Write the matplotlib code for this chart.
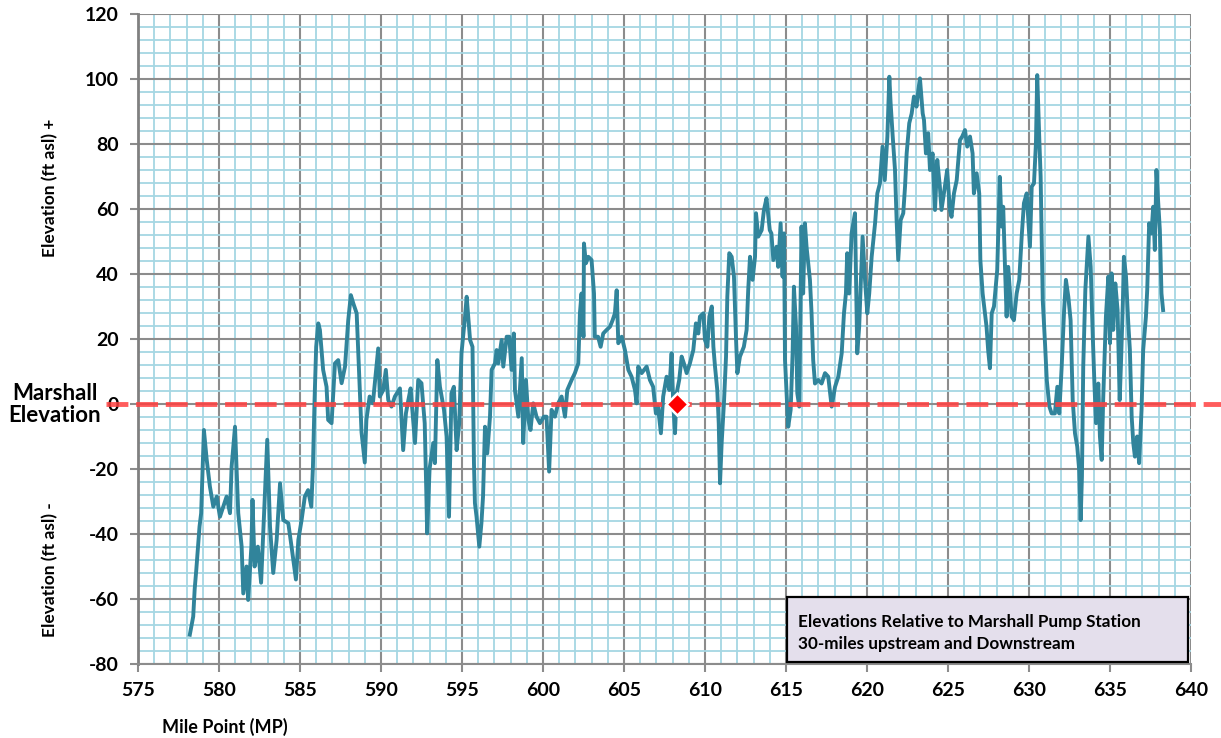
import matplotlib.pyplot as plt
from matplotlib.ticker import MultipleLocator

plt.rcParams["axes.unicode_minus"] = False

# elevation profile (mile point, ft relative to Marshall)
mile = [
    578.2, 578.41, 578.5, 578.6, 578.8, 578.9, 579.0, 579.07, 579.24, 579.44,
    579.65, 579.86, 580.06, 580.47, 580.68, 580.78, 580.99, 581.19, 581.4, 581.5,
    581.7, 581.8, 582.0, 582.07, 582.2, 582.4, 582.6, 582.84, 582.98, 583.15,
    583.35, 583.56, 583.77, 583.97, 584.28, 584.48, 584.75, 584.9, 585.1, 585.3,
    585.5, 585.7, 585.8, 585.9, 586.0, 586.13, 586.23, 586.43, 586.64, 586.74,
    586.95, 587.16, 587.36, 587.57, 587.78, 587.98, 588.14, 588.29, 588.5, 588.66,
    588.8, 589.0, 589.1, 589.3, 589.5, 589.83, 589.93, 590.14, 590.3, 590.45,
    590.65, 590.86, 591.17, 591.37, 591.54, 591.69, 591.83, 592.1, 592.3, 592.5,
    592.7, 592.8, 592.85, 593.0, 593.23, 593.33, 593.48, 593.64, 593.89, 594.05,
    594.2, 594.35, 594.5, 594.67, 594.83, 594.97, 595.19, 595.29, 595.5, 595.65,
    595.74, 595.8, 595.9, 596.07, 596.2, 596.3, 596.42, 596.56, 596.73, 596.83,
    597.04, 597.14, 597.24, 597.45, 597.55, 597.76, 597.92, 598.06, 598.2, 598.27,
    598.48, 598.69, 598.78, 598.95, 599.1, 599.23, 599.4, 599.6, 599.81, 600.06,
    600.22, 600.38, 600.53, 600.74, 600.94, 601.15, 601.36, 601.5, 601.77, 601.97,
    602.18, 602.28, 602.38, 602.5, 602.53, 602.65, 602.8, 603.0, 603.15, 603.2,
    603.4, 603.56, 603.72, 603.93, 604.14, 604.3, 604.44, 604.55, 604.65, 604.86,
    605.06, 605.27, 605.47, 605.68, 605.78, 605.88, 606.09, 606.4, 606.6, 606.8,
    606.97, 607.1, 607.28, 607.42, 607.63, 607.8, 607.94, 608.04, 608.15, 608.25,
    608.41, 608.56, 608.7, 608.87, 609.07, 609.28, 609.44, 609.59, 609.69, 609.9,
    610.0, 610.15, 610.27, 610.42, 610.52, 610.62, 610.76, 610.85, 610.93, 611.03,
    611.17, 611.3, 611.38, 611.5, 611.65, 611.79, 611.92, 612.0, 612.16, 612.4,
    612.57, 612.67, 612.78, 612.94, 613.09, 613.15, 613.29, 613.5, 613.64, 613.8,
    614.0, 614.1, 614.22, 614.42, 614.52, 614.67, 614.79, 614.88, 614.94, 615.04,
    615.14, 615.29, 615.41, 615.49, 615.62, 615.7, 615.82, 615.96, 616.06, 616.17,
    616.27, 616.48, 616.58, 616.68, 616.79, 616.99, 617.2, 617.41, 617.61, 617.82,
    618.03, 618.23, 618.44, 618.58, 618.7, 618.78, 618.9, 619.05, 619.26, 619.4,
    619.52, 619.61, 619.73, 619.88, 620.02, 620.14, 620.29, 620.5, 620.64, 620.8,
    620.96, 621.1, 621.26, 621.38, 621.46, 621.59, 621.73, 621.83, 621.93, 622.08,
    622.24, 622.35, 622.45, 622.61, 622.76, 622.9, 623.06, 623.17, 623.27, 623.44,
    623.52, 623.64, 623.78, 623.89, 624.05, 624.2, 624.34, 624.5, 624.6, 624.81,
    624.95, 625.12, 625.22, 625.37, 625.54, 625.64, 625.74, 625.88, 626.05, 626.19,
    626.36, 626.52, 626.6, 626.77, 626.93, 627.0, 627.14, 627.28, 627.38, 627.48,
    627.59, 627.7, 627.84, 628.04, 628.2, 628.31, 628.41, 628.52, 628.62, 628.72,
    628.83, 628.93, 629.07, 629.24, 629.4, 629.55, 629.69, 629.86, 630.06, 630.17,
    630.31, 630.43, 630.51, 630.64, 630.72, 630.85, 630.99, 631.1, 631.26, 631.4,
    631.6, 631.75, 631.87, 632.02, 632.17, 632.28, 632.43, 632.57, 632.7, 632.84,
    632.98, 633.1, 633.19, 633.27, 633.35, 633.48, 633.67, 633.81, 633.94, 634.04,
    634.14, 634.28, 634.38, 634.49, 634.58, 634.75, 634.9, 635.0, 635.1, 635.2,
    635.33, 635.47, 635.6, 635.68, 635.8, 635.86, 635.99, 636.13, 636.23, 636.34,
    636.44, 636.54, 636.68, 636.8, 636.95, 637.05, 637.22, 637.3, 637.42, 637.56,
    637.67, 637.77, 637.87, 637.98, 638.08, 638.18, 638.28,
]
elev = [
    -71, -65.4, -57, -51, -37.7, -33.6, -19, -8, -17, -25.4,
    -31.6, -28.5, -34.7, -28.5, -33.6, -19.3, -7, -33.6, -43.9, -58.3,
    -50, -60.3, -43.9, -29.5, -50, -43.9, -55, -27.4, -11, -37.7,
    -52, -41.8, -24.4, -35.7, -36.7, -43.9, -54, -41.8, -35.7, -28.5,
    -26.5, -31.6, -19.3, 1.2, 17.6, 24.8, 22.8, 10.5, 5.3, -4.9,
    -5.9, 12.5, 13.5, 6.4, 11.5, 25.8, 33.5, 31, 27.9, 8.7,
    -8.7, -18, -4.9, 2.3, 0.2, 17.1, 2.3, 4.3, 10.5, 1.2,
    -0.8, 2.3, 4.8, -14.2, -2.9, 1.2, 4.8, -12, 7.4, 6.4,
    -5.9, -27.5, -39.8, -20, -12, -18.2, 13.5, 5.3, -1.8, -10,
    -34.7, 3.3, 5.3, -14.2, -5.9, 15.6, 26.9, 33, 19.7, 17.6,
    -18.2, -30.5, -34.7, -43.9, -36.7, -28.5, -7, -15.2, -3.9, 10.5,
    12.5, 16.6, 12.5, 19.7, 11.5, 20.7, 20.7, 10.5, 21.7, 4.3,
    -3.9, 14.1, -12, 7.4, -4.9, -8, 0.2, -3.9, -5.9, -3.9,
    -3.9, -20.8, -1.8, -3.9, 0.2, 2.3, -3.9, 4.3, 7.4, 9.5,
    12.5, 27.9, 34, 20.7, 49.4, 43.3, 45.3, 44.3, 34, 20.7,
    20.7, 17.6, 21.7, 22.8, 23.8, 25.8, 27.9, 35, 18.7, 20.7,
    16.6, 10.5, 8.4, 4.3, 0.2, 11.5, 9.5, 11.5, 7.4, 5.3,
    -2.9, -0.8, -9, 2.3, 8.4, 4.3, 15.6, 0.2, -9, 3.3,
    7.4, 14.6, 12.5, 9.5, 12.5, 16.6, 24.8, 21.7, 26.9, 27.9,
    19.7, 17.6, 26.9, 30, 17.6, 11.5, 4.3, -5.9, -24.4, -12,
    0.2, 14.6, 33, 46.4, 45.3, 39.2, 19.7, 9.5, 14.6, 17.6,
    22.8, 35.1, 45.3, 38.2, 45.3, 58.7, 51.5, 53.5, 59.7, 63.3,
    53.5, 52.5, 44.3, 48.4, 42.2, 55.6, 39.2, 52.5, 13.5, 3.3,
    -7, -1.8, 15.6, 36.1, 23.8, 3.3, -0.8, 54.6, 34, 55.6,
    48.4, 38.2, 27.9, 13.5, 6.3, 7.4, 6.3, 9.5, 8.4, -0.8,
    5.3, 8.4, 15.6, 27.9, 34, 46.4, 34, 52.5, 58.7, 15.6,
    23.8, 36.1, 51.5, 38.2, 27.9, 34, 45.3, 55.6, 64.8, 67.9,
    79.2, 68.9, 82.3, 100.7, 92.5, 82.3, 72, 56.6, 44.3, 56.6,
    58.7, 66.9, 77.1, 86.4, 89.4, 94.6, 91.5, 96.6, 100.2, 89.4,
    87.4, 77.1, 83.3, 72, 77.1, 59.7, 75.1, 66.9, 59.7, 66.9,
    72, 59.7, 57.6, 64.8, 68.9, 75.1, 81.2, 82.3, 84.3, 79.2,
    82.3, 77.1, 64.8, 71, 64.8, 44.3, 34, 27.9, 23.8, 16.6,
    11, 27.9, 30, 41.2, 69.9, 54.6, 60.7, 42.2, 26.9, 42.2,
    34, 26.9, 25.8, 34, 38.2, 51.5, 61.8, 64.8, 48.4, 66.9,
    67.9, 80.2, 101.2, 81.2, 70, 32, 18.7, 7.4, -0.8, -2.9,
    -2.9, 5.3, -2.9, 11.5, 28.9, 38.2, 33, 25.8, 1.2, -9,
    -13.1, -20.3, -35.7, -22.4, 11.5, 35.1, 51.5, 42.2, 20.7, 6.3,
    -5.9, 6.3, -10, -17.2, 1.2, 26.9, 39.2, 18.7, 40.2, 22.8,
    37.1, 28.9, 1.2, 12.5, 32, 45.3, 39.2, 24.8, 16.6, -3.9,
    -12, -16.2, -10, -18.2, -1.8, 16.6, 26.9, 35.1, 55.6, 52.5,
    60.7, 47.4, 72, 61.8, 53.5, 34, 28.9,
]

marshall_mp = 608.3
marshall_elev = 0

line_color = "#31849B"
font = "Lato"

fig = plt.figure(figsize=(12.21, 7.38), dpi=100)
ax = fig.add_axes([0.113, 0.1003, 0.8624, 0.8807])

ax.set_xlim(575, 640)
ax.set_ylim(-80, 120)
ax.xaxis.set_major_locator(MultipleLocator(5))
ax.xaxis.set_minor_locator(MultipleLocator(1))
ax.yaxis.set_major_locator(MultipleLocator(20))
ax.yaxis.set_minor_locator(MultipleLocator(4))

ax.grid(which="minor", color="#A5D7E3", lw=1.3, zorder=0)
ax.grid(which="major", color="#8C8C8C", lw=1.5, zorder=0.5)
ax.set_axisbelow(True)

for s in ["top", "right"]:
    ax.spines[s].set_visible(False)
ax.spines["left"].set_color("#808080")
ax.spines["left"].set_linewidth(2)
ax.spines["bottom"].set_color("#8C8C8C")
ax.spines["bottom"].set_linewidth(1.5)

ax.tick_params(which="major", direction="out", length=6, color="#8C8C8C", width=1.5)
ax.tick_params(which="minor", length=0)
for lab in ax.get_xticklabels() + ax.get_yticklabels():
    lab.set_fontfamily(font)
    lab.set_fontweight("bold")
    lab.set_fontsize(14)
ax.tick_params(axis="x", pad=7)
ax.tick_params(axis="y", pad=8)

# profile
ax.plot(mile, elev, color=line_color, lw=2.8, zorder=3)

# Marshall reference line, runs past both edges of the plot
ax.plot([-0.03, 1.05], [marshall_elev, marshall_elev], transform=ax.get_yaxis_transform(),
        color="#FF4040", alpha=0.85, lw=3.5, dashes=(4.5, 1.6), clip_on=False, zorder=4)
ax.plot(marshall_mp, marshall_elev, marker="D", ms=11, color="red",
        markeredgecolor="white", markeredgewidth=1.8, zorder=5)

# axis labels
fig.text(0.041, 0.745, "Elevation (ft asl) +", rotation=90, ha="center", va="center",
         fontfamily=font, fontweight="bold", fontsize=12.5)
fig.text(0.041, 0.228, "Elevation (ft asl) -", rotation=90, ha="center", va="center",
         fontfamily=font, fontweight="bold", fontsize=12.5)
fig.text(0.045, 0.452, "Marshall\nElevation", ha="center", va="center",
         fontfamily=font, fontweight="bold", fontsize=16, linespacing=1.05)
fig.text(0.184, 0.015, "Mile Point (MP)", ha="center", va="center",
         fontfamily=font, fontweight="bold", fontsize=13)

# note box
ax.text(0.627, 0.077, "Elevations Relative to Marshall Pump Station\n30-miles upstream and Downstream",
        transform=ax.transAxes, ha="left", va="top", fontfamily=font, fontweight="bold",
        fontsize=12.3, linespacing=1.45, zorder=7)
box = plt.Rectangle((0.616, 0.003), 0.381, 0.1, transform=ax.transAxes,
                    facecolor="#E4DFEC", edgecolor="black", lw=1.6, zorder=6)
ax.add_patch(box)

fig.savefig("out.png", dpi=100)
